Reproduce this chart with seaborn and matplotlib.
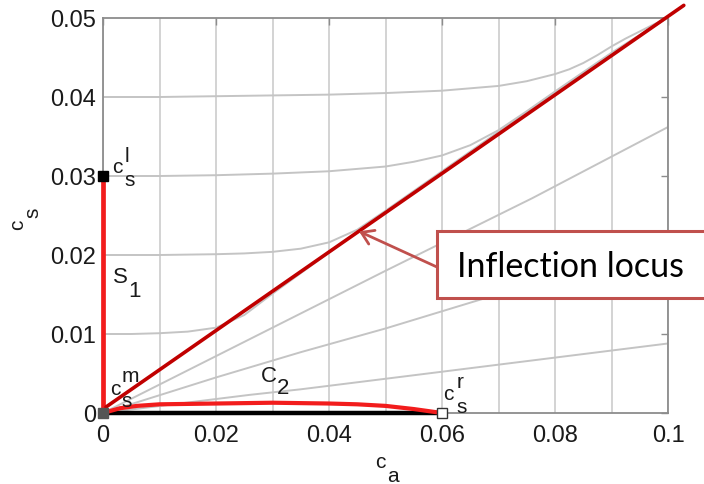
import numpy as np
import pandas as pd
import matplotlib
matplotlib.use("Agg")
import matplotlib.pyplot as plt
from matplotlib.patches import Rectangle
import seaborn as sns

sns.set_theme(style="white")
plt.rcParams["font.family"] = ["Liberation Sans", "DejaVu Sans"]

# ---- axis ticks ----
x_ticks = [0.0, 0.02, 0.04, 0.06, 0.08, 0.1]
x_tick_labels = ["0", "0.02", "0.04", "0.06", "0.08", "0.1"]
y_ticks = [0.0, 0.01, 0.02, 0.03, 0.04, 0.05]
y_tick_labels = ["0", "0.01", "0.02", "0.03", "0.04", "0.05"]
x_grid = [0.01, 0.02, 0.03, 0.04, 0.05, 0.06, 0.07, 0.08, 0.09]

# ---- integral curves above the inflection locus ----
upper_010_ca = [0.0, 0.005, 0.01, 0.015, 0.02, 0.025, 0.03, 0.04, 0.05, 0.06, 0.07, 0.08, 0.09, 0.1]
upper_010_cs = [0.0100, 0.0100, 0.0101, 0.0103, 0.0108, 0.0124, 0.0151, 0.0203, 0.0255, 0.0305, 0.0355, 0.0405, 0.0454, 0.0501]

upper_020_ca = [0.0, 0.01, 0.02, 0.025, 0.03, 0.035, 0.04, 0.045, 0.05, 0.055, 0.06, 0.07, 0.08, 0.09, 0.1]
upper_020_cs = [0.0200, 0.0200, 0.0201, 0.0202, 0.0204, 0.0208, 0.0216, 0.0232, 0.0256, 0.0281, 0.0306, 0.0356, 0.0406, 0.0455, 0.0501]

upper_030_ca = [0.0, 0.01, 0.02, 0.03, 0.04, 0.045, 0.05, 0.055, 0.06, 0.065, 0.07, 0.075, 0.08, 0.09, 0.1]
upper_030_cs = [0.0300, 0.0300, 0.0301, 0.0303, 0.0306, 0.0309, 0.0312, 0.0318, 0.0326, 0.0339, 0.0358, 0.0382, 0.0407, 0.0456, 0.0501]

upper_040_ca = [0.0, 0.01, 0.02, 0.03, 0.04, 0.05, 0.06, 0.065, 0.07, 0.075, 0.08, 0.0825, 0.085, 0.0875, 0.09, 0.0925, 0.095, 0.0975, 0.1]
upper_040_cs = [0.0400, 0.0400, 0.0401, 0.0402, 0.0403, 0.0405, 0.0408, 0.0411, 0.0414, 0.0420, 0.0429, 0.0435, 0.0443, 0.0453, 0.0464, 0.0474, 0.0483, 0.0492, 0.0500]

# ---- integral curves below the inflection locus ----
lower_a_ca = [0.0, 0.02, 0.05, 0.076, 0.1]
lower_a_cs = [0.0, 0.0072, 0.0180, 0.0272, 0.0362]
lower_b_ca = [0.0, 0.02, 0.035, 0.05, 0.067, 0.1]
lower_b_cs = [0.0, 0.0045, 0.0077, 0.0107, 0.0144, 0.0205]
lower_c_ca = [0.0, 0.026, 0.035, 0.053, 0.1]
lower_c_cs = [0.0, 0.0023, 0.0030, 0.0046, 0.0088]

# ---- solution path ----
s1_ca = [0.0, 0.0]
s1_cs = [0.0, 0.03]
c2_ca = [0.0, 0.003, 0.006, 0.01, 0.02, 0.03, 0.04, 0.045, 0.05, 0.055, 0.06]
c2_cs = [0.0, 0.0006, 0.0009, 0.0011, 0.0012, 0.0013, 0.0012, 0.0011, 0.0009, 0.0005, 0.0]
base_ca = [0.0, 0.06]
base_cs = [0.0, 0.0]

# ---- inflection locus ----
locus_ca = [0.00053, 0.1028]
locus_cs = [0.00076, 0.0516]

# ---- states ----
state_l = (0.0, 0.03)
state_m = (0.0, 0.0)
state_r = (0.06, 0.0)

gray_curves = {
    "u010": (upper_010_ca, upper_010_cs),
    "u020": (upper_020_ca, upper_020_cs),
    "u030": (upper_030_ca, upper_030_cs),
    "u040": (upper_040_ca, upper_040_cs),
    "la": (lower_a_ca, lower_a_cs),
    "lb": (lower_b_ca, lower_b_cs),
    "lc": (lower_c_ca, lower_c_cs),
}
gray_df = pd.concat(
    [pd.DataFrame({"ca": c[0], "cs": c[1], "curve": k}) for k, c in gray_curves.items()],
    ignore_index=True,
)

fig = plt.figure(figsize=(7.04, 4.85), dpi=100)
ax = fig.add_axes([103 / 704, 71 / 485, 565 / 704, 395 / 485])

GRID = "#d0d0d0"
ax.set_xlim(0, 0.1)
ax.set_ylim(0, 0.05)
ax.set_xticks(x_ticks)
ax.set_xticklabels(x_tick_labels)
ax.set_yticks(y_ticks)
ax.set_yticklabels(y_tick_labels)
ax.set_xticks(x_grid, minor=True)
ax.grid(False)
ax.xaxis.grid(True, which="both", color=GRID, lw=1.3)
ax.set_axisbelow(True)
ax.tick_params(which="major", direction="in", length=5, width=1, color="#8c8c8c",
               top=True, right=True, labelsize=17, colors="#8c8c8c", labelcolor="#1a1a1a")
ax.tick_params(axis="x", which="major", pad=8)
ax.tick_params(axis="y", which="major", pad=5)
ax.tick_params(which="minor", length=0)
for s in ax.spines.values():
    s.set_color("#8c8c8c")
    s.set_linewidth(1.3)

# integral curves
sns.lineplot(data=gray_df, x="ca", y="cs", units="curve", estimator=None, sort=False,
             color="#c4c4c4", lw=1.4, ax=ax, legend=False, zorder=2)

# solution path
RED = "#f21c1c"
sns.lineplot(x=base_ca, y=base_cs, estimator=None, sort=False, color="black", lw=3.2,
             ax=ax, zorder=4, clip_on=False)
sns.lineplot(x=c2_ca, y=c2_cs, estimator=None, sort=False, color=RED, lw=3.0,
             ax=ax, zorder=5, clip_on=False)
sns.lineplot(x=s1_ca, y=s1_cs, estimator=None, sort=False, color=RED, lw=3.4,
             ax=ax, zorder=5, clip_on=False)

# inflection locus
sns.lineplot(x=locus_ca, y=locus_cs, estimator=None, sort=False, color="#c00000", lw=2.6,
             ax=ax, zorder=6, clip_on=False)

# states
ax.plot(*state_l, marker="s", ms=7.5, mfc="black", mec="black", zorder=8, clip_on=False)
ax.plot(*state_m, marker="s", ms=7.5, mfc="#555555", mec="#555555", zorder=8, clip_on=False)
ax.plot(*state_r, marker="s", ms=7.5, mfc="white", mec="#333333", mew=1.0, zorder=8, clip_on=False)

ax.set_xlabel("")
ax.set_ylabel("")

PX = 72 / 100  # pixels -> points


def scripted(xy, base, sub=None, sup=None, dx=12, sub_dy=-13, sup_dy=12,
             size=15, coords="data"):
    ax.annotate(base, xy=xy, xycoords=coords, ha="left", va="baseline",
                fontsize=size, color="#1a1a1a", annotation_clip=False, zorder=9)
    if sub:
        ax.annotate(sub, xy=xy, xycoords=coords, xytext=(dx * PX, sub_dy * PX),
                    textcoords="offset points", ha="left", va="baseline",
                    fontsize=size, color="#1a1a1a", annotation_clip=False, zorder=9)
    if sup:
        ax.annotate(sup, xy=xy, xycoords=coords, xytext=(dx * PX, sup_dy * PX),
                    textcoords="offset points", ha="left", va="baseline",
                    fontsize=size, color="#1a1a1a", annotation_clip=False, zorder=9)


scripted((0.0017, 0.0305), "c", "s", "l", dx=12, sub_dy=-13, sup_dy=11)
scripted((0.0012, 0.0024), "c", "s", "m", dx=12, sub_dy=-12, sup_dy=13)
scripted((0.0602, 0.00177), "c", "s", "r", dx=13, sub_dy=-13, sup_dy=12)
scripted((0.0017, 0.0166), "S", "1", dx=16, sub_dy=-14, size=16)
scripted((0.0280, 0.00405), "C", "2", dx=16, sub_dy=-12, size=16)

# axis labels
scripted((0.4814, -0.1367), "c", "a", dx=12, sub_dy=-14, size=15, coords="axes fraction")
ax.annotate("c", xy=(-0.1416, 0.4658), xycoords="axes fraction", rotation=90,
            rotation_mode="anchor", ha="left", va="baseline", fontsize=15,
            color="#1a1a1a", annotation_clip=False)
ax.annotate("s", xy=(-0.1416, 0.4658), xycoords="axes fraction", xytext=(15 * PX, 12 * PX),
            textcoords="offset points", rotation=90, rotation_mode="anchor",
            ha="left", va="baseline", fontsize=15, color="#1a1a1a", annotation_clip=False)

# callout
BOX = "#c0504d"
ax.add_patch(Rectangle((0.0591, 0.01456), 0.06, 0.00848, fc="white", ec=BOX, lw=2.2,
                       zorder=10, clip_on=False))
ax.text(0.0627, 0.01734, "Inflection locus", family=["Lato", "DejaVu Sans"],
        fontsize=24.5, color="black", ha="left", va="baseline", zorder=11, clip_on=False)
ax.annotate("", xy=(0.0453, 0.0230), xytext=(0.0591, 0.01848),
            arrowprops=dict(arrowstyle="->,head_length=0.7,head_width=0.45", color=BOX,
                            lw=2.0, shrinkA=0, shrinkB=0),
            annotation_clip=False, zorder=11)

fig.savefig("out.png", dpi=100)
